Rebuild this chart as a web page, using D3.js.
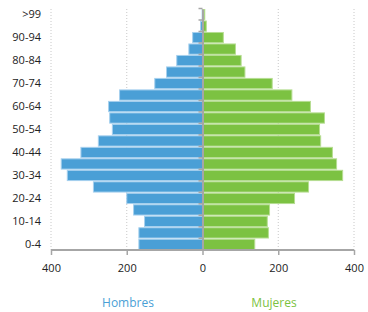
<!DOCTYPE html>
<html>
<head>
<meta charset="utf-8">
<script src="https://cdn.jsdelivr.net/npm/d3@7"></script>
<style>
  body { margin: 0; background: #fff; }
  svg text { font-family: "Open Sans", sans-serif; }
</style>
</head>
<body>
<svg id="chart" width="368" height="312"></svg>
<script>
// age groups, bottom to top
var ages = ["0-4","5-9","10-14","15-19","20-24","25-29","30-34","35-39","40-44","45-49",
            "50-54","55-59","60-64","65-69","70-74","75-79","80-84","85-89","90-94","95-99",">99"];
var hombres = [168,168,153,182,200,288,357,373,321,275,238,245,248,219,126,95,68,36,26,5,1];
var mujeres = [138,174,171,177,243,280,370,354,343,312,309,322,285,236,184,112,102,87,55,10,6];
var xTicks = [-400,-200,0,200,400];

var svg = d3.select("#chart");

// plot area (note: "top" is taken by window.top, so use a margin object)
var plot = { left: 51, right: 354, top: 9, bottom: 250 };

var x = d3.scaleLinear().domain([-400, 400]).range([plot.left, plot.right]);
var y = d3.scaleBand().domain(ages.slice().reverse()).range([plot.top, plot.bottom]).paddingInner(0.02);

// dotted gridlines
svg.append("g").selectAll("line")
  .data(xTicks.filter(function(d) { return d != 0; }))
  .enter().append("line")
  .attr("x1", function(d) { return x(d); })
  .attr("x2", function(d) { return x(d); })
  .attr("y1", plot.top).attr("y2", plot.bottom)
  .attr("stroke", "#c8c8c8")
  .attr("stroke-dasharray", "1,2");

// men bars (left)
svg.append("g").selectAll("rect")
  .data(ages)
  .enter().append("rect")
  .attr("x", function(d, i) { return x(-hombres[i]); })
  .attr("y", function(d) { return y(d) + 0.5; })
  .attr("width", function(d, i) { return x(0) - x(-hombres[i]); })
  .attr("height", y.bandwidth() - 1)
  .attr("fill", "#4a9fd6")
  .attr("stroke", "#a6d0ee")
  .attr("stroke-width", 1);

// women bars (right)
svg.append("g").selectAll("rect")
  .data(ages)
  .enter().append("rect")
  .attr("x", x(0))
  .attr("y", function(d) { return y(d) + 0.5; })
  .attr("width", function(d, i) { return x(mujeres[i]) - x(0); })
  .attr("height", y.bandwidth() - 1)
  .attr("fill", "#7cc242")
  .attr("stroke", "#b6dd92")
  .attr("stroke-width", 1);

// bottom axis
var xAxis = d3.axisBottom(x)
  .tickValues(xTicks)
  .tickSize(5)
  .tickFormat(function(d) { return Math.abs(d); });

var gx = svg.append("g")
  .attr("transform", "translate(0," + plot.bottom + ")")
  .call(xAxis);
gx.select(".domain").attr("stroke", "#a6a6a6").attr("stroke-width", 2)
  .attr("d", "M" + x(-400) + ",0H" + x(400));
gx.selectAll(".tick line").attr("stroke", "#a6a6a6").attr("stroke-width", 1.5);
gx.selectAll(".tick text")
  .attr("dy", "1.3em")
  .attr("font-size", "11px")
  .attr("fill", "#222");

// centre axis
var yAxis = d3.axisLeft(y).tickSize(0).tickFormat("");
var gy = svg.append("g")
  .attr("transform", "translate(" + x(0) + ",0)")
  .call(yAxis);
gy.select(".domain").attr("stroke", "#a6a6a6").attr("stroke-width", 2);

// small category ticks on the centre axis
svg.append("g").selectAll("line")
  .data(ages)
  .enter().append("line")
  .attr("x1", x(0) - 4).attr("x2", x(0))
  .attr("y1", function(d) { return y(d) - 0.5; })
  .attr("y2", function(d) { return y(d) - 0.5; })
  .attr("stroke", "#a6a6a6")
  .attr("stroke-width", 1.5);

// age labels, every other group
svg.append("g").selectAll("text")
  .data(ages.filter(function(d, i) { return i % 2 == 0; }))
  .enter().append("text")
  .attr("x", 41)
  .attr("y", function(d) { return y(d) + y.bandwidth() / 2; })
  .attr("dy", "0.35em")
  .attr("text-anchor", "end")
  .attr("font-size", "11px")
  .attr("fill", "#222")
  .text(function(d) { return d; });

// legend labels
svg.append("text")
  .attr("x", 128).attr("y", 307)
  .attr("text-anchor", "middle")
  .attr("font-size", "12px")
  .attr("fill", "#4a9fd6")
  .text("Hombres");

svg.append("text")
  .attr("x", 274).attr("y", 307)
  .attr("text-anchor", "middle")
  .attr("font-size", "12px")
  .attr("fill", "#7cc242")
  .text("Mujeres");
</script>
</body>
</html>
